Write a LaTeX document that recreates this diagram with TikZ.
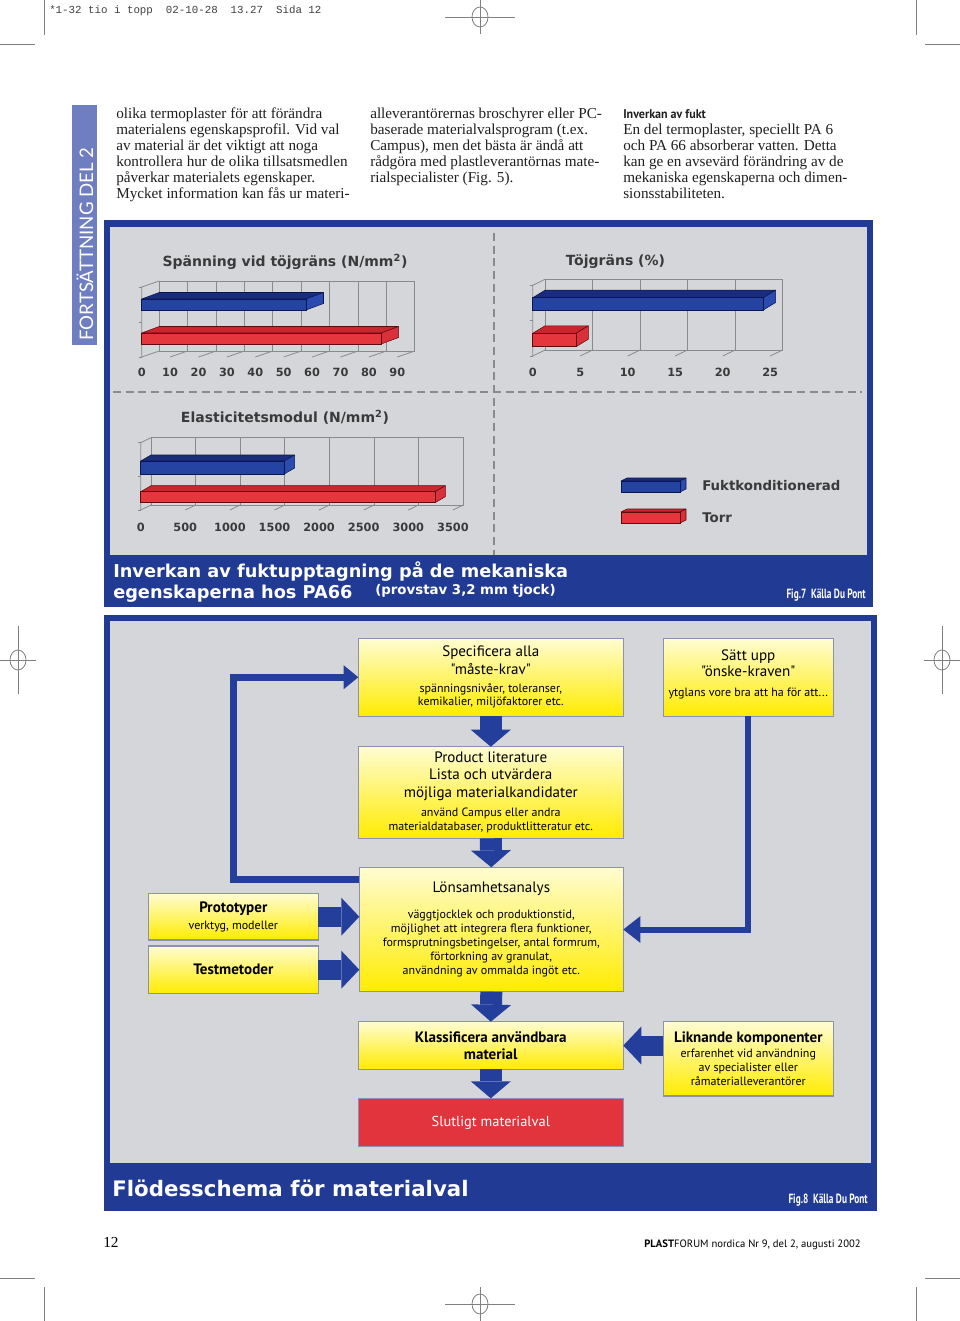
\documentclass[tikz,border=0pt]{standalone}
\usepackage{graphicx}
\usepackage{fontspec}
\setmainfont{Liberation Serif}
\newfontfamily\chartfont{DejaVu Sans}
\newfontfamily\flowfont{PT Sans}
\newfontfamily\sidefont{Lato}
\newfontfamily\slugfont{Liberation Mono}
\usetikzlibrary{arrows.meta}

\definecolor{frameblue}{HTML}{213B95}
\definecolor{panelgrey}{HTML}{D5D6DA}
\definecolor{sideblue}{HTML}{6F7EC0}
\definecolor{gridgrey}{HTML}{8A8A8A}
\definecolor{inkgrey}{HTML}{3A3A3A}
\definecolor{bluebarface}{HTML}{2543A3}
\definecolor{bluebartop}{HTML}{1A2C7E}
\definecolor{bluebarside}{HTML}{2C4BB0}
\definecolor{bluebaredge}{HTML}{0B164F}
\definecolor{redbarface}{HTML}{E5363E}
\definecolor{redbartop}{HTML}{C9262E}
\definecolor{redbarside}{HTML}{D9303A}
\definecolor{redbaredge}{HTML}{5E0A0F}
\definecolor{boxtop}{HTML}{FFFCD2}
\definecolor{boxbottom}{HTML}{FFEC00}
\definecolor{boxedge}{HTML}{8D90B6}
\definecolor{finalred}{HTML}{E1343C}
\definecolor{flowblue}{HTML}{243E9C}
\definecolor{cropgrey}{HTML}{808080}

\newcommand\solidbar[6]{%
  \filldraw[draw=#6edge, fill=#6top, line join=round] (0,#2) -- (#4,#2+#5) -- (#1+#4,#2+#5) -- (#1,#2) -- cycle;
  \filldraw[draw=#6edge, fill=#6side, line join=round] (#1,#2) -- (#1+#4,#2+#5) -- (#1+#4,#3+#5) -- (#1,#3) -- cycle;
  \filldraw[draw=#6edge, fill=#6face] (0,#2) rectangle (#1,#3);
}
\newcommand\bigline[1]{{\fontsize{11.3}{12}\selectfont #1}}
\newcommand\boldline[1]{{\bfseries\fontsize{11.3}{12}\selectfont #1}}

\begin{document}
\begin{tikzpicture}[x=0.75pt, y=-0.75pt,
  crop/.style={draw=cropgrey, line width=0.6pt},
  bodytext/.style={anchor=north west, align=left, inner sep=0pt, text=black!88, font=\fontsize{11.4}{12}\selectfont},
  chartgrid/.style={draw=gridgrey, line width=0.6pt},
  charttitle/.style={font=\chartfont\bfseries\fontsize{10.5}{12}\selectfont, text=inkgrey, inner sep=0pt},
  ticklabel/.style={font=\chartfont\bfseries\fontsize{8.5}{10}\selectfont, text=inkgrey, inner sep=0pt},
  legendtext/.style={font=\chartfont\bfseries\fontsize{10}{12}\selectfont, text=inkgrey, inner sep=0pt, anchor=west},
  divider/.style={draw=gridgrey, line width=0.8pt, dash pattern=on 6pt off 3.5pt},
  bandtext/.style={text=white, inner sep=0pt, anchor=base west},
  figsource/.style={font=\flowfont\bfseries\fontsize{10}{12}\selectfont, text=white, inner sep=0pt, anchor=base east},
  flowbox/.style={draw=boxedge, line width=1pt, top color=boxtop, bottom color=boxbottom, inner sep=0pt, outer sep=0pt, align=center, text=black, font=\flowfont\fontsize{9}{10.5}\selectfont},
  finalbox/.style={draw=boxedge, line width=1pt, fill=finalred, inner sep=0pt, outer sep=0pt, text=white, font=\flowfont\fontsize{10.8}{12}\selectfont},
  blockarrow/.style={draw=flowblue, line width=16.5pt, -{Triangle[length=12.75pt, width=30pt, line width=0pt]}},
  sidearrow/.style={draw=flowblue, line width=15pt, -{Triangle[length=13.5pt, width=28.5pt, line width=0pt]}},
  loopline/.style={draw=flowblue, line width=5.25pt, -{Triangle[length=11pt, width=18pt, line width=0pt]}},
  feedline/.style={draw=flowblue, line width=4.5pt, -{Triangle[length=12.75pt, width=20pt, line width=0pt]}}
]
\useasboundingbox (0,0) rectangle (960,1321);
\fill[white] (0,0) rectangle (960,1321);

\draw[crop] (44,0) -- (44,35);
\draw[crop] (0,44) -- (35,44);
\draw[crop] (916,0) -- (916,35);
\draw[crop] (925,44) -- (960,44);
\draw[crop] (0,1278) -- (35,1278);
\draw[crop] (925,1278) -- (960,1278);
\draw[crop] (44,1287) -- (44,1321);
\draw[crop] (916,1287) -- (916,1321);
\foreach \cx/\cy/\ax/\ay in {480/17/35/17, 18/660/18/34, 942/660/18/34, 480/1304/35/17} {
  \draw[crop] (\cx-\ax,\cy) -- (\cx+\ax,\cy);
  \draw[crop] (\cx,\cy-\ay) -- (\cx,\cy+\ay);
  \draw[crop] (\cx,\cy) ellipse [x radius=8, y radius=10];
}
\node[anchor=base west, inner sep=0pt, font=\slugfont\fontsize{8.1}{10}\selectfont, text=black!75] (slug) at (49,13) {*1-32 tio i topp~ 02-10-28~ 13.27~ Sida 12};

\fill[sideblue] (72,105) rectangle (97,345);
\node[rotate=90, text=white, font=\sidefont\fontsize{14}{14}\selectfont, inner sep=0pt] (sidelabel) at (85,244) {FORTSÄTTNING DEL 2};

\node[bodytext] (colone) at (116,108) {olika termoplaster för att förändra\\
materialens egenskapsprofil. Vid val\\
av material är det viktigt att noga\\
kontrollera hur de olika tillsatsmedlen\\
påverkar materialets egenskaper.\\
Mycket information kan fås ur materi-};
\node[bodytext] (coltwo) at (370,108) {alleverantörernas broschyrer eller PC-\\
baserade materialvalsprogram (t.ex.\\
Campus), men det bästa är ändå att\\
rådgöra med plastleverantörnas mate-\\
rialspecialister (Fig. 5).};
\node[bodytext] (colthree) at (623,109) {{\flowfont\bfseries\fontsize{9.5}{12}\selectfont\scalebox{0.95}[1]{Inverkan av fukt}}\\
En del termoplaster, speciellt PA 6\\
och PA 66 absorberar vatten. Detta\\
kan ge en avsevärd förändring av de\\
mekaniska egenskaperna och dimen-\\
sionsstabiliteten.};

\fill[frameblue] (104,220) rectangle (873,607);
\fill[panelgrey] (110,227) rectangle (867,555);
\draw[divider] (494,233) -- (494,555);
\draw[divider] (113,392) -- (862,392);

\begin{scope}[shift={(141.7,357)}]
  \draw[chartgrid] (17.5,-6) rectangle (273.1,-76);
  \foreach \i in {1,...,8} \draw[chartgrid] (17.5+28.4*\i,-6) -- (17.5+28.4*\i,-76);
  \draw[chartgrid] (0,0) -- (0,-70) -- (17.5,-76);
  \foreach \i in {0,...,9} \draw[chartgrid] (28.4*\i,0) -- (17.5+28.4*\i,-6);
  \foreach \v in {0,-35,-70} \draw[chartgrid] (-3,\v) -- (0,\v);
  \solidbar{164.3}{-58}{-47}{17.5}{-6.5}{bluebar}
  \solidbar{239.4}{-24}{-13}{17.5}{-6.5}{redbar}
  \foreach \v [count=\i from 0] in {0,10,...,90}
    \node[ticklabel] (spanntick\i) at (28.4*\i,15) {\v};
\end{scope}
\node[charttitle] (spanntitle) at (285,262) {Spänning vid töjgräns (N/mm\textsuperscript{2})};

\begin{scope}[shift={(532.7,356)}]
  \draw[chartgrid] (12.3,-6) rectangle (249.8,-76.7);
  \foreach \i in {1,...,4} \draw[chartgrid] (12.3+47.5*\i,-6) -- (12.3+47.5*\i,-76.7);
  \draw[chartgrid] (0,0) -- (0,-70.7) -- (12.3,-76.7);
  \foreach \i in {0,...,5} \draw[chartgrid] (47.5*\i,0) -- (12.3+47.5*\i,-6);
  \foreach \v in {0,-35.35,-70.7} \draw[chartgrid] (-3,\v) -- (0,\v);
  \solidbar{230.6}{-58.3}{-46}{12.3}{-7.5}{bluebar}
  \solidbar{43.3}{-22.7}{-9.3}{12.3}{-7.5}{redbar}
  \foreach \v [count=\i from 0] in {0,5,...,25}
    \node[ticklabel] (toejtick\i) at (47.5*\i,16) {\v};
\end{scope}
\node[charttitle] (toejtitle) at (615.5,262) {Töjgräns (\%)};

\begin{scope}[shift={(140.7,510)}]
  \draw[chartgrid] (10.3,-5) rectangle (322.5,-72.3);
  \foreach \i in {1,...,6} \draw[chartgrid] (10.3+44.6*\i,-5) -- (10.3+44.6*\i,-72.3);
  \draw[chartgrid] (0,0) -- (0,-67.3) -- (10.3,-72.3);
  \foreach \i in {0,...,7} \draw[chartgrid] (44.6*\i,0) -- (10.3+44.6*\i,-5);
  \foreach \v in {0,-33.6,-67.3} \draw[chartgrid] (-3,\v) -- (0,\v);
  \solidbar{143.6}{-49}{-36}{10.3}{-6}{bluebar}
  \solidbar{294.3}{-18.3}{-7.3}{10.3}{-6}{redbar}
  \foreach \v [count=\i from 0] in {0,500,...,3500}
    \node[ticklabel] (modtick\i) at (44.6*\i,17) {\v};
\end{scope}
\node[charttitle] (modtitle) at (285,417) {Elasticitetsmodul (N/mm\textsuperscript{2})};

\begin{scope}[shift={(621,492)}]
  \solidbar{59}{-11}{0}{6}{-3}{bluebar}
\end{scope}
\begin{scope}[shift={(621,523)}]
  \solidbar{59}{-11}{0}{6}{-3}{redbar}
\end{scope}
\node[legendtext] (legendwet) at (702,486) {Fuktkonditionerad};
\node[legendtext] (legenddry) at (702,518) {Torr};

\node[bandtext, font=\chartfont\bfseries\fontsize{13.3}{15}\selectfont] (bandone) at (113,577) {Inverkan av fuktupptagning på de mekaniska};
\node[bandtext, font=\chartfont\bfseries\fontsize{13.3}{15}\selectfont] (bandtwo) at (113,598) {egenskaperna hos PA66};
\node[bandtext, font=\chartfont\bfseries\fontsize{10}{12}\selectfont] (bandnote) at (375,594) {(provstav 3,2 mm tjock)};
\node[figsource] (srcseven) at (866,598) {\scalebox{0.7}[1]{Fig.7\ \ Källa Du Pont}};

\fill[frameblue] (104,615) rectangle (877,1211);
\fill[panelgrey] (110,621) rectangle (871,1163);

\node[flowbox, minimum width=198.75pt, minimum height=58.5pt] (spec) at (490.8,677.2) {\bigline{Specificera alla}\\[2pt]
\bigline{"måste-krav"}\\[3pt]
spänningsnivåer, toleranser,\\[-0.8pt]
kemikalier, miljöfaktorer etc.};
\node[flowbox, minimum width=127.5pt, minimum height=58.5pt] (onske) at (748.3,677.2) {\bigline{Sätt upp}\\[2pt]
\bigline{"önske-kraven"}\\[4pt]
ytglans vore bra att ha för att...\\[-4pt]
\mbox{}};
\node[flowbox, minimum width=198.75pt, minimum height=68.7pt] (lit) at (490.8,792.5) {\bigline{Product literature}\\[2.5pt]
\bigline{Lista och utvärdera}\\[2.5pt]
\bigline{möjliga materialkandidater}\\[4pt]
använd Campus eller andra\\
materialdatabaser, produktlitteratur etc.};
\node[flowbox, minimum width=198pt, minimum height=93.3pt] (lons) at (491.3,929.5) {\bigline{Lönsamhetsanalys}\\[9pt]
väggtjocklek och produktionstid,\\
möjlighet att integrera flera funktioner,\\
formsprutningsbetingelser, antal formrum,\\
förtorkning av granulat,\\
användning av ommalda ingöt etc.};
\node[flowbox, minimum width=127.5pt, minimum height=35pt] (proto) at (233.3,916.7) {\boldline{Prototyper}\\[2pt]
verktyg, modeller};
\node[flowbox, minimum width=127.5pt, minimum height=35.5pt] (test) at (233.3,969.7) {\boldline{Testmetoder}};
\node[flowbox, minimum width=198.75pt, minimum height=35.7pt] (klass) at (490.8,1045.5) {\boldline{Klassificera användbara}\\[2pt]
\boldline{material}};
\node[flowbox, minimum width=127.5pt, minimum height=55.7pt] (likn) at (748.3,1058.9) {\boldline{Liknande komponenter}\\[1pt]
erfarenhet vid användning\\
av specialister eller\\
råmaterialleverantörer};
\node[finalbox, minimum width=198.75pt, minimum height=36.3pt] (slut) at (490.8,1122.5) {Slutligt materialval};

\draw[blockarrow] (spec.south) -- (lit.north);
\draw[blockarrow] (lit.south) -- (lons.north);
\draw[blockarrow] (lons.south) -- (klass.north);
\draw[blockarrow] (klass.south) -- (slut.north);
\draw[sidearrow] (proto.east) -- (lons.west |- proto.east);
\draw[sidearrow] (test.east) -- (lons.west |- test.east);
\draw[sidearrow] (likn.west |- klass.east) -- (klass.east);
\draw[loopline] ([yshift=-9pt]lons.north west) -- ++(-126,0) |- (spec.west);
\draw[feedline] (onske.south) |- (lons.east);

\node[bandtext, font=\chartfont\bfseries\fontsize{16}{18}\selectfont] (flowtitle) at (112,1196) {Flödesschema för materialval};
\node[figsource] (srceight) at (868,1203) {\scalebox{0.7}[1]{Fig.8\ \ Källa Du Pont}};

\node[anchor=base west, inner sep=0pt, font=\fontsize{11.5}{12}\selectfont] (pageno) at (103,1247) {12};
\node[anchor=base east, inner sep=0pt, font=\flowfont\fontsize{8}{10}\selectfont] (imprint) at (861,1247) {{\bfseries PLAST}FORUM nordica Nr 9, del 2, augusti 2002};
\end{tikzpicture}
\end{document}
